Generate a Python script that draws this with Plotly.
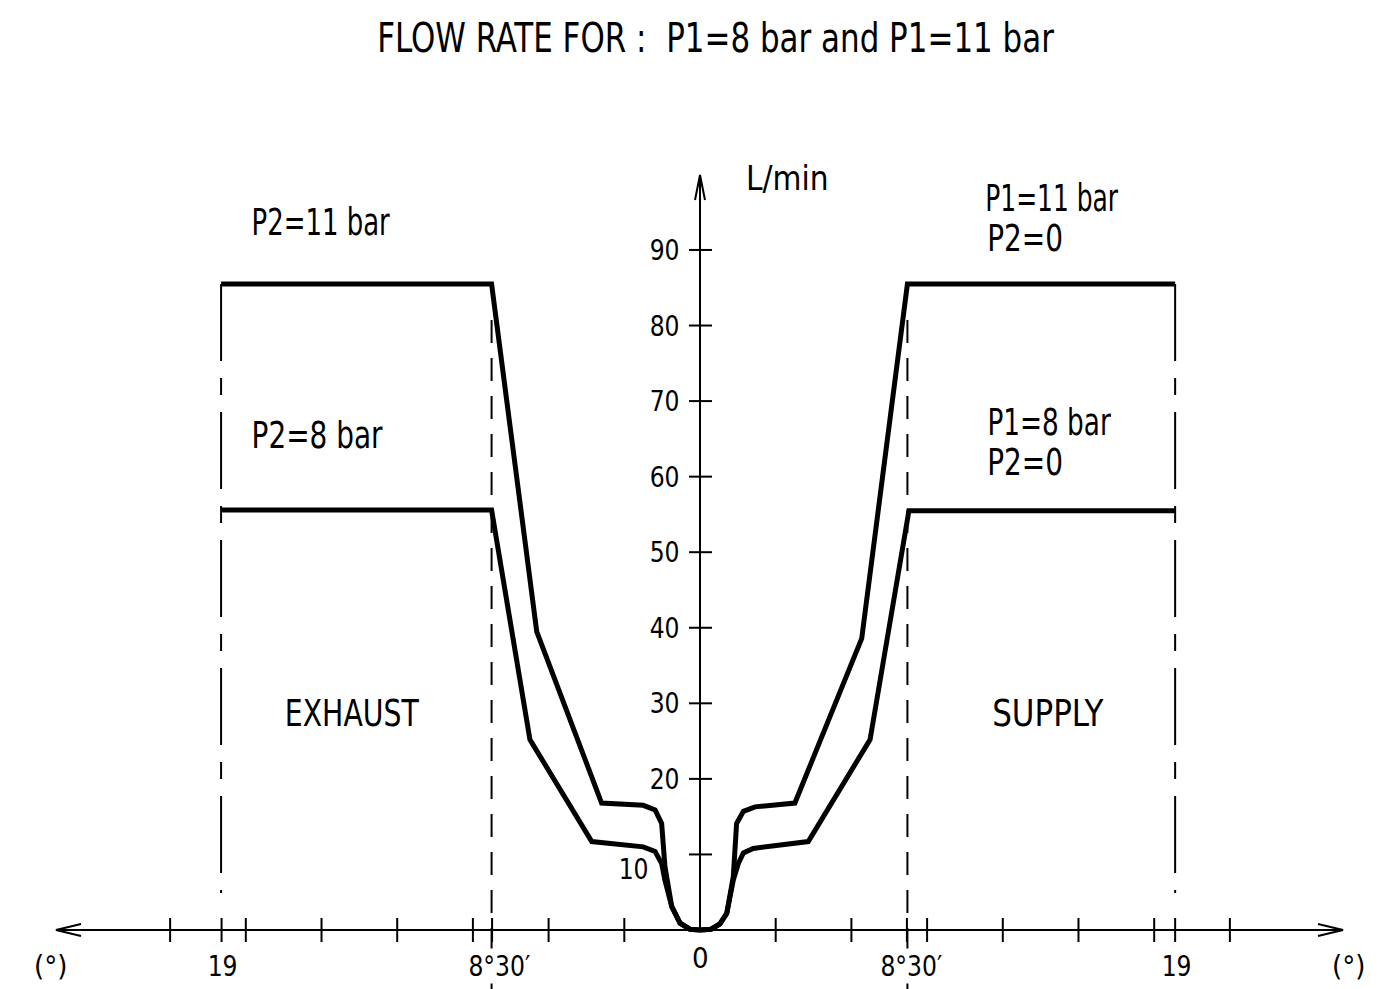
import json
import plotly.graph_objects as go

# ---------------- data ----------------
# x: valve angle in degrees (negative = exhaust side), y: flow in L/min
X_HIGH = [-18.98, -8.26, -6.47, -3.90, -2.25, -1.78, -1.52, -1.39, -1.12, -0.79, -0.40, 0.0,
          0.44, 0.79, 1.06, 1.32, 1.45, 1.72, 2.18, 3.76, 6.41, 8.22, 18.83]
Y_HIGH = [85.5, 85.5, 39.5, 16.8, 16.5, 15.9, 14.1, 8.4, 3.1, 0.9, 0.1, 0.0,
          0.1, 0.8, 2.2, 7.1, 14.1, 15.7, 16.3, 16.8, 38.6, 85.5, 85.5]

X_LOW = [-18.98, -8.26, -6.74, -4.29, -2.25, -1.78, -1.52, -1.39, -1.12, -0.79, -0.40, 0.0,
         0.44, 0.79, 1.06, 1.32, 1.52, 1.72, 2.11, 4.29, 6.74, 8.28, 18.83]
Y_LOW = [55.6, 55.6, 25.2, 11.7, 11.0, 10.4, 8.8, 6.6, 3.1, 0.9, 0.1, 0.0,
         0.1, 0.8, 2.2, 6.6, 8.8, 10.2, 10.8, 11.7, 25.2, 55.5, 55.5]

Y_TICKS = [10, 20, 30, 40, 50, 60, 70, 80, 90]
Y_TICK_LABELS = ["10", "20", "30", "40", "50", "60", "70", "80", "90"]
X_MINOR_TICKS = [-21, -18, -15, -12, -9, -6, -3, 3, 6, 9, 12, 15, 18, 21]
X_MARKS = [-18.96, -8.24, 8.2, 18.83]          # "19" and "8°30'" marks
X_MARK_LABELS = ["19", "8°30′", "8°30′", "19"]
X_LIMIT_19 = [-18.98, 18.83]                  # dash-dot limit lines
X_LIMIT_85 = [-8.26, 8.22]                    # dashed limit lines

TITLE = "FLOW RATE FOR :  P1=8 bar and P1=11 bar"
Y_UNIT = "L/min"
X_UNIT = "(°)"

# ---------------- geometry helpers (pixel scale of the drawing) ----------------
PX_X = 25.233   # px per degree
PX_Y = 7.556    # px per L/min
W, H = 1399, 989
X0_PX, Y0_PX = 700, 930

xr = [(0 - X0_PX) / PX_X, (W - X0_PX) / PX_X]
yr = [(Y0_PX - H) / PX_Y, Y0_PX / PX_Y]

def dx(px):
    return px / PX_X

def dy(px):
    return px / PX_Y

FONT = "DejaVu Sans Condensed, DejaVu Sans, sans-serif"
INK = "#000000"

fig = go.Figure()

# curves
fig.add_trace(go.Scatter(x=X_HIGH, y=Y_HIGH, mode="lines",
                         line=dict(color=INK, width=5), hoverinfo="skip"))
fig.add_trace(go.Scatter(x=X_LOW, y=Y_LOW, mode="lines",
                         line=dict(color=INK, width=5), hoverinfo="skip"))

# axis lines
x_left_tip, x_right_tip = dx(56 - X0_PX), dx(1343 - X0_PX)
y_top_tip = dy(Y0_PX - 175)
fig.add_shape(type="line", x0=x_left_tip, x1=x_right_tip, y0=0, y1=0,
              line=dict(color=INK, width=2))
fig.add_shape(type="line", x0=0, x1=0, y0=0, y1=y_top_tip,
              line=dict(color=INK, width=2))

# arrow heads
ah_x, ah_y = dx(25), dy(6)
fig.add_trace(go.Scatter(
    x=[x_left_tip + ah_x, x_left_tip, x_left_tip + ah_x, None,
       x_right_tip - ah_x, x_right_tip, x_right_tip - ah_x, None,
       -dx(5), 0, dx(5)],
    y=[ah_y, 0, -ah_y, None, ah_y, 0, -ah_y, None,
       y_top_tip - dy(25), y_top_tip, y_top_tip - dy(25)],
    mode="lines", line=dict(color=INK, width=2), hoverinfo="skip"))

# y ticks
tx, ty = [], []
for v in Y_TICKS:
    tx += [-dx(11), dx(12), None]
    ty += [v, v, None]
# x ticks
for v in X_MINOR_TICKS + X_MARKS:
    tx += [v, v, None]
    ty += [dy(12), -dy(12), None]
fig.add_trace(go.Scatter(x=tx, y=ty, mode="lines",
                         line=dict(color=INK, width=2), hoverinfo="skip"))

# limit lines
y_dash_top = dy(Y0_PX - 320)
y_bottom = yr[0] - 1
for xv in X_LIMIT_85:
    fig.add_trace(go.Scatter(x=[xv, xv], y=[y_dash_top, y_bottom], mode="lines",
                             line=dict(color=INK, width=2, dash="23px,15px"),
                             hoverinfo="skip"))
y_cl_bot = dy(Y0_PX - 893)
for xv in X_LIMIT_19:
    fig.add_trace(go.Scatter(x=[xv, xv], y=[Y_HIGH[0], y_cl_bot], mode="lines",
                             line=dict(color=INK, width=2, dash="77px,17px,17px,17px"),
                             hoverinfo="skip"))

# ---------------- texts ----------------
# each text is centred at its place; a horizontal squeeze factor imitates the
# narrow drafting font of the original drawing
SQUEEZE = []

def text(px, py, s, size, squeeze=1.0, bg=None):
    fig.add_annotation(x=dx(px - X0_PX), y=dy(Y0_PX - py), text=s, showarrow=False,
                       xanchor="center", yanchor="middle",
                       font=dict(family=FONT, size=size, color=INK),
                       bgcolor=bg, borderpad=0)
    SQUEEZE.append(squeeze)

text(715.5, 38, TITLE, 40, 0.86)
text(787.5, 178, Y_UNIT, 33, 1.0)
text(321, 222, "P2=11 bar", 37, 0.78)
text(317, 435, "P2=8 bar", 37, 0.84)
text(1052, 198, "P1=11 bar", 37, 0.75)
text(1025, 238, "P2=0", 37, 0.84)
text(1049, 422, "P1=8 bar", 37, 0.79)
text(1025, 462, "P2=0", 37, 0.84)
text(351.5, 713, "EXHAUST", 37, 0.85)
text(1047.5, 713, "SUPPLY", 37, 0.93)

for v, s in zip(Y_TICKS, Y_TICK_LABELS):
    if v == 10:
        text(633, Y0_PX - v * PX_Y + 15, s, 29, 0.9)
    else:
        text(664, Y0_PX - v * PX_Y, s, 29, 0.9)

mark_centres = [222, 499, 911, 1176]
for c, s in zip(mark_centres, X_MARK_LABELS):
    text(c, 966, s, 29, 0.9, bg="white")
text(700, 958, "0", 29, 1.0)
text(50, 966, X_UNIT, 29, 1.0)
text(1348, 966, X_UNIT, 29, 1.0)

fig.update_layout(
    width=W, height=H, margin=dict(l=0, r=0, t=0, b=0),
    paper_bgcolor="white", plot_bgcolor="white", showlegend=False,
    xaxis=dict(range=xr, visible=False, fixedrange=True),
    yaxis=dict(range=yr, visible=False, fixedrange=True),
)

POST = """
document.body.style.margin = '0px';
var S = %s;
var gd = document.querySelector('.js-plotly-plot');
if (gd) {
  gd.querySelectorAll('g.annotation').forEach(function (g) {
    var i = parseInt(g.getAttribute('data-index'), 10);
    var s = S[i];
    if (!s || s === 1) return;
    var t = g.querySelector('text.annotation-text');
    if (!t) return;
    var b = t.getBBox();
    var cx = b.x + b.width / 2;
    t.setAttribute('transform', 'translate(' + cx + ',0) scale(' + s + ',1) translate(' + (-cx) + ',0)');
  });
}
""" % json.dumps(SQUEEZE)

fig.write_html("out.html", post_script=POST, config={"displayModeBar": False})
